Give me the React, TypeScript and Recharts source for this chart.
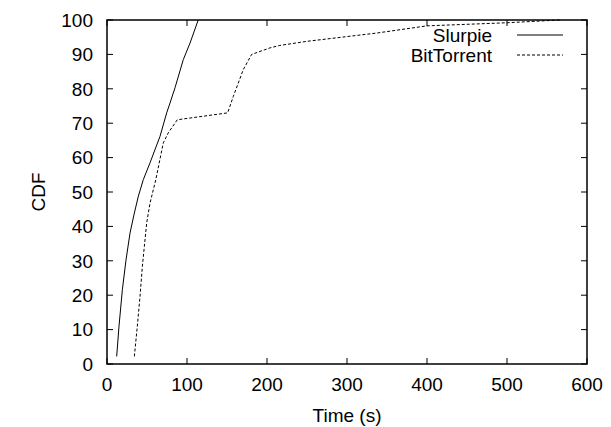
import React from 'react';
import { LineChart, Line, XAxis, YAxis, ReferenceLine, ReferenceArea } from 'recharts';

const xTicks = [0, 100, 200, 300, 400, 500, 600];
const yTicks = [0, 10, 20, 30, 40, 50, 60, 70, 80, 90, 100];

const seriesNames = ['Slurpie', 'BitTorrent'];
const seriesDash = ['', '3 2'];
const xTitle = 'Time (s)';
const yTitle = 'CDF';

const slurpieTime = [12.1, 15, 19.2, 23.8, 28.8, 34.2, 39.2, 45.4, 53.8, 66.3, 74.6, 78.8, 85, 95.4, 103.8, 114];
const slurpieCdf = [2.2, 11, 21.6, 30.3, 38.1, 43.9, 48.8, 53.6, 58.5, 66.2, 73, 75.9, 80.3, 88.5, 93.3, 100];

const btTime = [34.2, 37.9, 41.3, 44.2, 46.7, 49.6, 53.8, 61, 70.4, 76.6, 87.9, 150.8, 157.9, 170.4, 180.8, 203.8, 216, 250, 337, 400, 500, 566];
const btCdf = [2.2, 11, 19.7, 28.4, 34.2, 41, 46.8, 53.6, 64.3, 67.2, 71, 73, 77.8, 85.6, 90, 91.9, 92.6, 93.8, 96.2, 98.3, 99.2, 100];

const slurpieData = slurpieTime.map((t, i) => ({ t, v: slurpieCdf[i] }));
const btData = btTime.map((t, i) => ({ t, v: btCdf[i] }));

const FONT = '"Liberation Sans", Arial, Helvetica, sans-serif';
const FS = 19;
// tick length expressed in axis units (about 6px on each axis)
const XTL = 7.5;
const YTL = 1.75;
const XMAX = 600;
const YMAX = 100;

const BottomTick = (p: any) => (
  <text x={p.x} y={p.y + 27} textAnchor="middle" fontFamily={FONT} fontSize={FS} fill="#000">
    {p.payload.value}
  </text>
);
const LeftTick = (p: any) => (
  <text x={p.x - 14} y={p.y} dy="0.36em" textAnchor="end" fontFamily={FONT} fontSize={FS} fill="#000">
    {p.payload.value}
  </text>
);

export default function App() {
  return (
    <div style={{ position: 'absolute', left: 0, top: 0, width: 611, height: 427 }}>
      <LineChart width={611} height={427} margin={{ top: 20, right: 24, bottom: 0, left: 0 }}>
        <XAxis dataKey="t" type="number" domain={[0, XMAX]} ticks={xTicks} height={63}
          tickSize={0} tickMargin={0} tickLine={false} axisLine={false} tick={<BottomTick />} />
        <YAxis type="number" domain={[0, YMAX]} ticks={yTicks} width={107}
          tickSize={0} tickMargin={0} tickLine={false} axisLine={false} tick={<LeftTick />} />
        <ReferenceArea x1={0} x2={XMAX} y1={0} y2={YMAX} fill="none" fillOpacity={0}
          stroke="#000" strokeWidth={1.5} ifOverflow="visible" />
        {xTicks.map((t) => (
          <ReferenceLine key={'b' + t} segment={[{ x: t, y: 0 }, { x: t, y: YTL }]}
            stroke="#000" strokeWidth={1} ifOverflow="visible" />
        ))}
        {xTicks.map((t) => (
          <ReferenceLine key={'t' + t} segment={[{ x: t, y: YMAX }, { x: t, y: YMAX - YTL }]}
            stroke="#000" strokeWidth={1} ifOverflow="visible" />
        ))}
        {yTicks.map((v) => (
          <ReferenceLine key={'l' + v} segment={[{ x: 0, y: v }, { x: XTL, y: v }]}
            stroke="#000" strokeWidth={1} ifOverflow="visible" />
        ))}
        {yTicks.map((v) => (
          <ReferenceLine key={'r' + v} segment={[{ x: XMAX, y: v }, { x: XMAX - XTL, y: v }]}
            stroke="#000" strokeWidth={1} ifOverflow="visible" />
        ))}
        <Line data={slurpieData} dataKey="v" name={seriesNames[0]} type="linear"
          stroke="#000" strokeWidth={1} dot={false} isAnimationActive={false} />
        <Line data={btData} dataKey="v" name={seriesNames[1]} type="linear"
          stroke="#000" strokeWidth={1} strokeDasharray={seriesDash[1]} dot={false} isAnimationActive={false} />
      </LineChart>
      <svg width={611} height={427} style={{ position: 'absolute', left: 0, top: 0, pointerEvents: 'none' }}>
        <text x={347} y={422} textAnchor="middle" fontFamily={FONT} fontSize={FS} fill="#000">{xTitle}</text>
        <text x={38} y={192} transform="rotate(-90 38 192)" textAnchor="middle" dy="0.36em"
          fontFamily={FONT} fontSize={FS} fill="#000">{yTitle}</text>
        {seriesNames.map((n, i) => {
          const cy = 35 + i * 20;
          return (
            <g key={n}>
              <text x={492} y={cy} dy="0.36em" textAnchor="end" fontFamily={FONT} fontSize={FS} fill="#000">{n}</text>
              <path d={`M517,${cy}H563`} stroke="#000" strokeWidth={1} fill="none"
                strokeDasharray={seriesDash[i] || undefined} />
            </g>
          );
        })}
      </svg>
    </div>
  );
}
